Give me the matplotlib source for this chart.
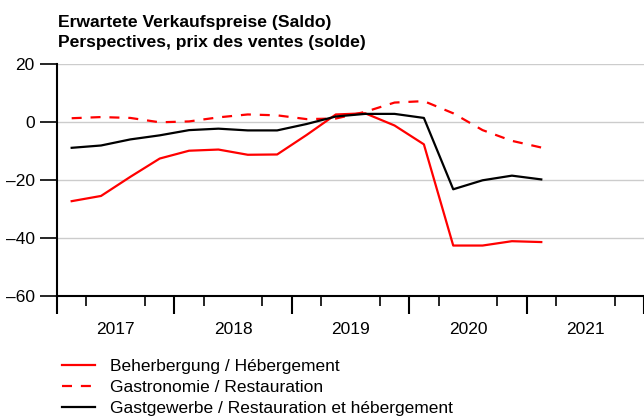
import numpy as np
import matplotlib
matplotlib.use('Agg')
import matplotlib.pyplot as plt

plt.rcParams['font.family'] = ['Liberation Sans', 'DejaVu Sans']

# quarterly survey values, 2017 Q1 .. 2021 Q1
quarters = ['2017Q1', '2017Q2', '2017Q3', '2017Q4',
            '2018Q1', '2018Q2', '2018Q3', '2018Q4',
            '2019Q1', '2019Q2', '2019Q3', '2019Q4',
            '2020Q1', '2020Q2', '2020Q3', '2020Q4',
            '2021Q1']
beherbergung = [-27.3, -25.5, -18.9, -12.6, -9.9, -9.5, -11.3, -11.2,
                -4.5, 2.6, 3.0, -1.2, -7.7, -42.6, -42.6, -41.1, -41.4]
gastronomie = [1.3, 1.7, 1.4, -0.1, 0.2, 1.6, 2.6, 2.3,
               1.0, 1.2, 3.5, 6.7, 7.2, 3.0, -2.8, -6.5, -8.8]
gastgewerbe = [-8.9, -8.1, -6.0, -4.6, -2.8, -2.3, -2.9, -2.9,
               -0.7, 1.9, 2.8, 2.8, 1.4, -23.2, -20.1, -18.5, -19.8]

labels = ['Beherbergung / Hébergement',
          'Gastronomie / Restauration',
          'Gastgewerbe / Restauration et hébergement']
years = [2017, 2018, 2019, 2020, 2021]
yticks = [20, 0, -20, -40, -60]

x = np.array([int(q[:4]) + (int(q[-1]) - 0.5) / 4 for q in quarters])

fig = plt.figure(figsize=(6.44, 4.19), dpi=100)
ax = fig.add_axes([57 / 644, 1 - 296 / 419, 1 - 57 / 644, (296 - 64) / 419])

for v in yticks[:-1]:
    ax.axhline(v, color='#cccccc', lw=1, zorder=0)

ax.plot(x, beherbergung, color='red', lw=1.6, label=labels[0])
ax.plot(x, gastronomie, color='red', lw=1.6, dashes=(4.5, 4), label=labels[1])
ax.plot(x, gastgewerbe, color='black', lw=1.6, label=labels[2])

ax.set_xlim(2017, 2022)
ax.set_ylim(-60, 20)
ax.set_yticks(yticks)
ax.set_yticklabels([str(v).replace('-', '\u2013') for v in yticks])

# year labels centred, long ticks at year boundaries, short at quarters
ax.set_xticks([y + 0.5 for y in years])
ax.set_xticklabels([str(y) for y in years])
ax.set_xticks(np.arange(2017, 2022.01, 0.25), minor=True)
ax.tick_params(axis='x', which='major', length=0, pad=19, labelsize=12.5)
ax.tick_params(axis='x', which='minor', length=7, width=1.2, direction='out')
sec = ax.secondary_xaxis('bottom')
sec.set_xticks(years + [2022])
sec.set_xticklabels([])
sec.tick_params(length=13, width=1.5)
sec.spines['bottom'].set_visible(False)
ax.tick_params(axis='y', length=12, width=1.2, pad=4, labelsize=12.5)

for s in ['top', 'right']:
    ax.spines[s].set_visible(False)
ax.spines['left'].set_linewidth(1.5)
ax.spines['bottom'].set_linewidth(1.5)

fig.text(58 / 644, 1 - 27.5 / 419, 'Erwartete Verkaufspreise (Saldo)',
         fontsize=12.6, fontweight='bold', va='baseline', ha='left')
fig.text(58 / 644, 1 - 47.5 / 419, 'Perspectives, prix des ventes (solde)',
         fontsize=12.6, fontweight='bold', va='baseline', ha='left')

fig.legend(loc='upper left', bbox_to_anchor=(62 / 644, 1 - 359 / 419),
           frameon=False, fontsize=12.5, handlelength=1.9, handletextpad=0.85,
           labelspacing=0.33, borderpad=0, borderaxespad=0)

fig.savefig('out.png', dpi=100)
